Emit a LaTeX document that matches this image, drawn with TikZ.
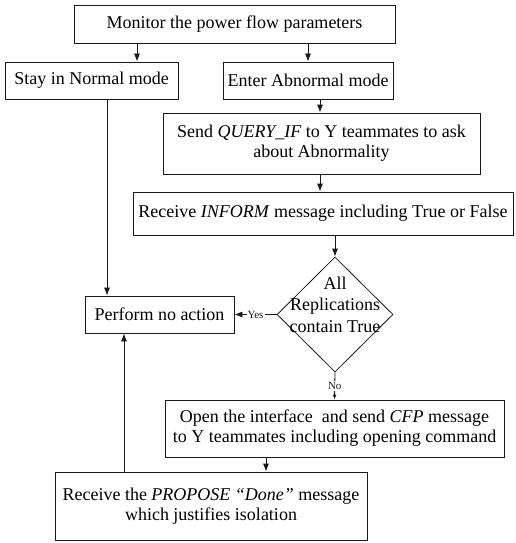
\documentclass[tikz,border=0pt]{standalone}
\usepackage{fontspec}
\setmainfont{Liberation Serif}
\usetikzlibrary{positioning,calc,shapes.geometric,arrows.meta}
\colorlet{colorLN}{black!90}
\tikzset{
   every path/.style={>={Latex[length=8pt,width=6pt]}},
   fl/.style={->,color=colorLN,line width=0.8pt},
   fls/.style={-{Latex[length=5pt,width=4pt]},color=colorLN,line width=0.8pt},
   blk/.style={rectangle,draw=colorLN,line width=0.8pt,align=center,inner sep=2pt,font=\fontsize{18}{20}\selectfont},
   dec/.style={diamond,draw=colorLN,line width=0.8pt,inner sep=0pt,minimum width=116pt,minimum height=115pt},
   yn/.style={fill=white,inner sep=1pt,font=\fontsize{11}{11}\selectfont},
}

\begin{document}
\begin{tikzpicture}[x=1pt,y=-1pt]
      \useasboundingbox (0,0) rectangle (515,543);

      \node (mon) [blk, minimum width=321pt, minimum height=38pt]
        at (234.5,24)
        {Monitor the power flow parameters};

      \node (stay) [blk, minimum width=173pt, minimum height=37pt]
        at (91.5,80.5)
        {Stay in Normal mode};

      \node (abn) [blk, right of = stay, node distance = 216.5pt, minimum width=170pt, minimum height=37pt]
        % at (308,80.5)
        {Enter Abnormal mode};

      \node (qry) [blk, minimum width=317pt, minimum height=61pt]
        at (321.5,143.5)
        {Send \textit{QUERY\_IF} to Y teammates to ask\\about Abnormality};

      \node (inf) [blk, minimum width=380pt, minimum height=43pt]
        at (323,213.5)
        {Receive \textit{INFORM} message including True or False};

      \node (chk) [dec, label={[align=center,yshift=10pt,font=\fontsize{18}{21.5}\selectfont]center:All\\Replications\\contain True}]
        at (335,314.5)
        {};

      \node (noact) [blk, left of = chk, node distance = 175.5pt, minimum width=149pt, minimum height=37pt]
        % at (159.5,314.5)
        {Perform no action};

      \node (cfp) [blk, minimum width=339pt, minimum height=57pt]
        at (334.5,428.5)
        {Open the interface \ and send \textit{CFP} message\\to Y teammates including opening command};

      \node (prop) [blk, minimum width=312pt, minimum height=68pt]
        at (211,506)
        {Receive the \textit{PROPOSE ``Done''} message\\which justifies isolation};

      % branch points off the box centres
      \coordinate (s1) at ([xshift=45.5pt]stay.north);
      \coordinate (s2) at ([xshift=15.5pt]stay.south);
      \coordinate (a1) at ([xshift=12pt]abn.south);
      \coordinate (c1) at ([xshift=-68.5pt]cfp.south);
      \coordinate (p1) at ([xshift=-87pt]prop.north);

      \draw[fl] (mon.south -| s1) -- (s1);
      \draw[fl] (mon.south -| abn.north) -- (abn.north);
      \draw[fl] (a1) -- (a1 |- qry.north);
      \draw[fl] (qry.south -| a1) -- (inf.north -| a1);
      \draw[fl] (inf.south -| chk.north) -- (chk.north);
      \draw[fl] (chk.west) -- node[yn] {Yes} (noact.east);
      \draw[fls] (chk.south) -- node[yn] {No} (cfp.north);
      \draw[fl] (c1) -- (c1 |- prop.north);
      \draw[fl] (s2) -- (s2 |- noact.north);
      \draw[fl] (p1) -- (p1 |- noact.south);
\end{tikzpicture}
\end{document}
